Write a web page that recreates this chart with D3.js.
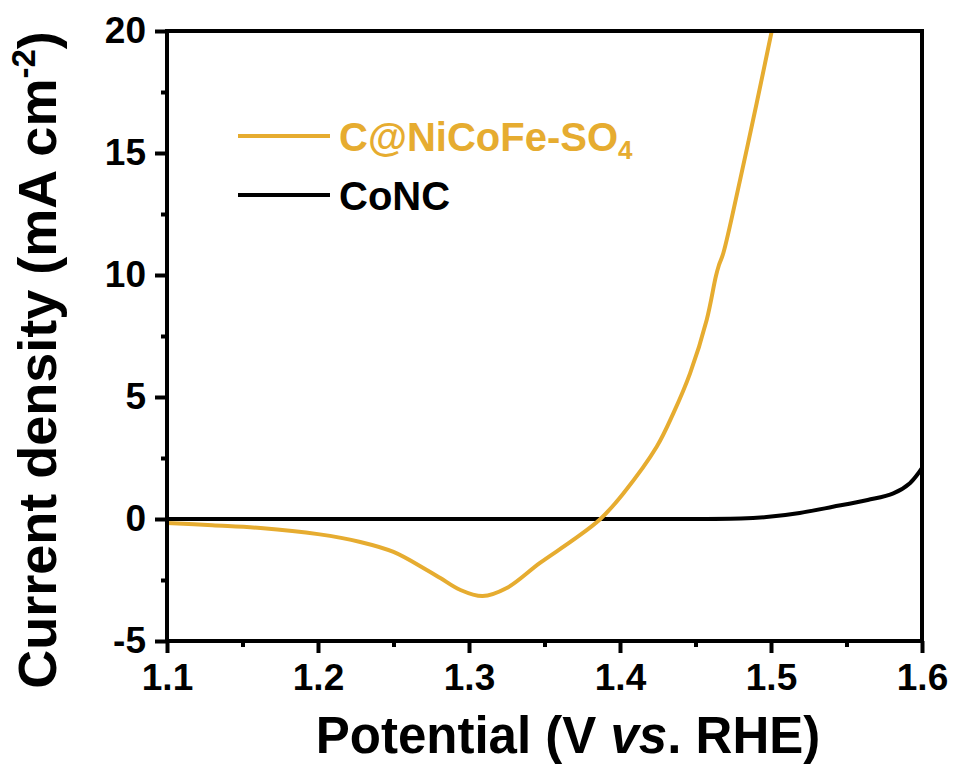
<!DOCTYPE html>
<html>
<head>
<meta charset="utf-8">
<script src="https://cdn.jsdelivr.net/npm/d3@7/dist/d3.min.js"></script>
<style>
  html, body { margin: 0; padding: 0; background: #fff; }
  svg { display: block; }
  text { font-family: "Liberation Sans", Arial, sans-serif; font-weight: bold; }
</style>
</head>
<body>
<svg id="chart" width="955" height="765"></svg>
<script>
// Potential (V vs. RHE) and current density (mA cm^-2) for each catalyst
const nicofePotential = [1.100, 1.130, 1.162, 1.200, 1.228, 1.250, 1.272, 1.281, 1.294, 1.309, 1.325, 1.347, 1.369, 1.387, 1.4022, 1.4243, 1.4353, 1.4464, 1.4574, 1.4635, 1.4655, 1.4684, 1.4795, 1.4905, 1.5005];
const nicofeCurrent   = [-0.16, -0.26, -0.37, -0.62, -0.94, -1.35, -2.09, -2.42, -2.90, -3.16, -2.83, -1.80, -0.86, 0.00, 1.05, 2.96, 4.33, 5.97, 8.16, 9.95, 10.40, 10.89, 13.89, 17.04, 20.00];

const concPotential = [1.100, 1.200, 1.300, 1.400, 1.480, 1.497, 1.519, 1.541, 1.564, 1.581, 1.592, 1.600];
const concCurrent   = [0.00, 0.00, 0.00, 0.00, 0.02, 0.08, 0.25, 0.50, 0.78, 1.05, 1.47, 2.09];

const seriesNames  = ["C@NiCoFe-SO4", "CoNC"];
const xTickValues  = [1.1, 1.2, 1.3, 1.4, 1.5, 1.6];
const xMinorValues = [1.15, 1.25, 1.35, 1.45, 1.55];
const yTickValues  = [-5, 0, 5, 10, 15, 20];
const yMinorValues = [-2.5, 2.5, 7.5, 12.5, 17.5];

const gold = "#E6AC30";
const ink = "#000";
const strokeW = 4;

const svg = d3.select("#chart");
const margin = { left: 167, top: 31, right: 33, bottom: 124 };
const W = 955, H = 765;
const x = d3.scaleLinear().domain([1.1, 1.6]).range([margin.left, W - margin.right]);
const y = d3.scaleLinear().domain([-5, 20]).range([H - margin.bottom, margin.top]);

svg.append("defs").append("clipPath").attr("id", "plotClip")
  .append("rect")
  .attr("x", x(1.1)).attr("y", y(20))
  .attr("width", x(1.6) - x(1.1)).attr("height", y(-5) - y(20));

const line = d3.line().x(d => x(d[0])).y(d => y(d[1])).curve(d3.curveCatmullRom.alpha(0.5));

const plot = svg.append("g").attr("clip-path", "url(#plotClip)");
plot.append("path")
  .datum(d3.zip(concPotential, concCurrent))
  .attr("fill", "none").attr("stroke", ink).attr("stroke-width", strokeW)
  .attr("d", line);
plot.append("path")
  .datum(d3.zip(nicofePotential, nicofeCurrent))
  .attr("fill", "none").attr("stroke", gold).attr("stroke-width", strokeW)
  .attr("stroke-linejoin", "round")
  .attr("d", line);

// Frame
svg.append("rect")
  .attr("x", x(1.1)).attr("y", y(20))
  .attr("width", x(1.6) - x(1.1)).attr("height", y(-5) - y(20))
  .attr("fill", "none").attr("stroke", ink).attr("stroke-width", strokeW);

// Bottom axis
const xAxis = svg.append("g").attr("transform", `translate(0,${y(-5)})`)
  .call(d3.axisBottom(x).tickValues(xTickValues).tickFormat(d3.format(".1f"))
    .tickSize(12).tickPadding(11));
xAxis.select(".domain").remove();
xAxis.selectAll(".tick line").attr("stroke", ink).attr("stroke-width", strokeW);
xAxis.selectAll("text").attr("font-size", 37).attr("fill", ink);

const xMinor = svg.append("g").attr("transform", `translate(0,${y(-5)})`)
  .call(d3.axisBottom(x).tickValues(xMinorValues).tickSize(6).tickFormat(""));
xMinor.select(".domain").remove();
xMinor.selectAll(".tick line").attr("stroke", ink).attr("stroke-width", strokeW);

// Left axis (plain hyphen for negative values)
const yAxis = svg.append("g").attr("transform", `translate(${x(1.1)},0)`)
  .call(d3.axisLeft(y).tickValues(yTickValues).tickFormat(d => String(d))
    .tickSize(12).tickPadding(9));
yAxis.select(".domain").remove();
yAxis.selectAll(".tick line").attr("stroke", ink).attr("stroke-width", strokeW);
yAxis.selectAll("text").attr("font-size", 37).attr("fill", ink);

const yMinor = svg.append("g").attr("transform", `translate(${x(1.1)},0)`)
  .call(d3.axisLeft(y).tickValues(yMinorValues).tickSize(6).tickFormat(""));
yMinor.select(".domain").remove();
yMinor.selectAll(".tick line").attr("stroke", ink).attr("stroke-width", strokeW);

// Axis titles
const xTitle = svg.append("text")
  .attr("x", 568).attr("y", 753)
  .attr("text-anchor", "middle").attr("font-size", 51).attr("fill", ink);
xTitle.append("tspan").text("Potential (V ");
xTitle.append("tspan").attr("font-style", "italic").text("vs");
xTitle.append("tspan").text(". RHE)");

const yTitle = svg.append("text")
  .attr("transform", "translate(56,360) rotate(-90)")
  .attr("text-anchor", "middle").attr("font-size", 54).attr("fill", ink);
yTitle.append("tspan").text("Current density (mA cm");
yTitle.append("tspan").attr("font-size", 33).attr("dy", -21).text("-2");
yTitle.append("tspan").attr("dy", 21).text(")");

// Legend
const legend = svg.append("g");
const legendRows = [
  { name: seriesNames[0], color: gold, y: 136 },
  { name: seriesNames[1], color: ink, y: 195 }
];
legendRows.forEach(r => {
  legend.append("line")
    .attr("x1", 238).attr("x2", 330).attr("y1", r.y).attr("y2", r.y)
    .attr("stroke", r.color).attr("stroke-width", strokeW);
  const t = legend.append("text")
    .attr("x", 339).attr("y", r.y + 15)
    .attr("font-size", 40).attr("fill", r.color);
  if (r.name.endsWith("4")) {
    t.append("tspan").text(r.name.slice(0, -1));
    t.append("tspan").attr("font-size", 26).attr("dy", 8).text("4");
  } else {
    t.text(r.name);
  }
});
</script>
</body>
</html>
